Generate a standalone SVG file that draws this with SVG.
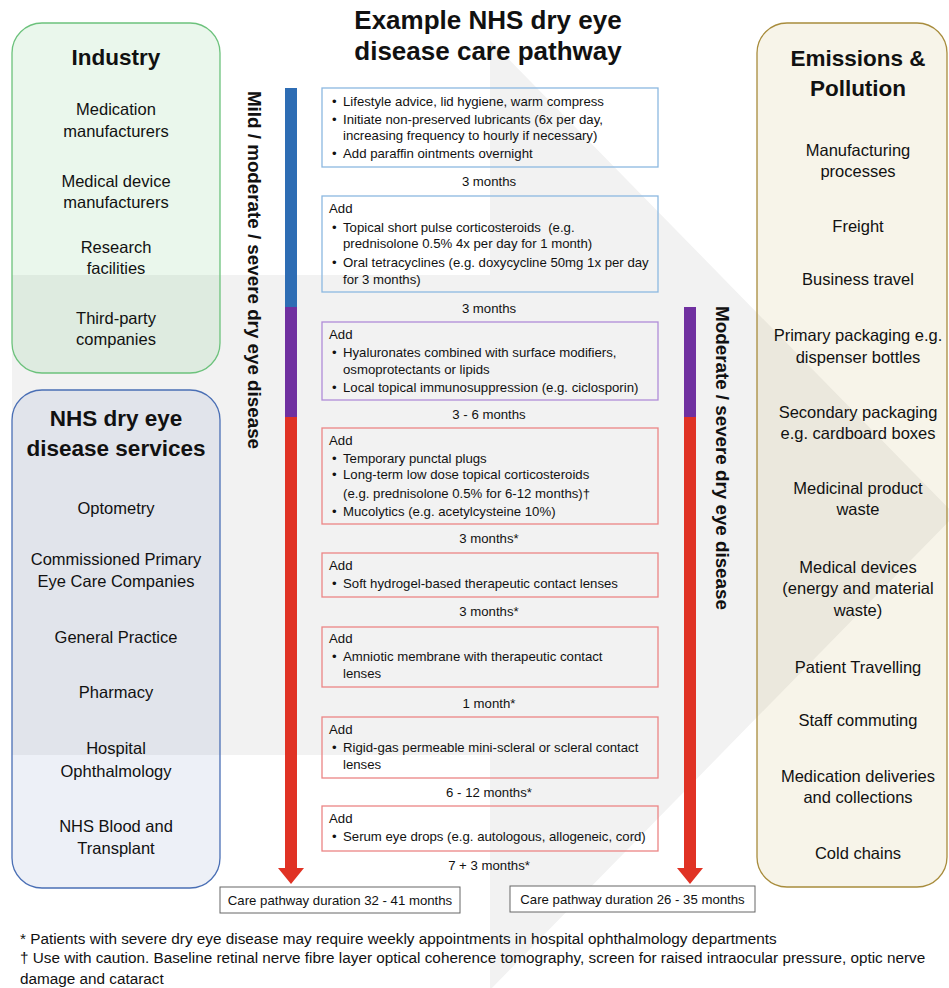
<svg xmlns="http://www.w3.org/2000/svg" width="949" height="988" viewBox="0 0 949 988">
<style>
text{font-family:"Liberation Sans",Arial,sans-serif;fill:#111;}
.title{font-size:26px;font-weight:bold;text-anchor:middle;}
.h{font-size:22.5px;font-weight:bold;text-anchor:middle;}
.it{font-size:16.5px;text-anchor:middle;}
.bx{font-size:13.2px;white-space:pre;}
.lbl{font-size:13.2px;text-anchor:middle;}
.vt{font-size:18.8px;font-weight:bold;text-anchor:middle;}
.fn{font-size:15.3px;}
.blue{fill:none;stroke:#8cb8e0;stroke-width:1.3;}
.purp{fill:none;stroke:#b08cd8;stroke-width:1.3;}
.red{fill:none;stroke:#ec8585;stroke-width:1.3;}
.dur{fill:#fff;stroke:#666;stroke-width:1;}
</style>
<rect width="949" height="988" fill="#fff"/>
<polygon points="12,275 490,275 490,40 955,515 490,990 490,755 12,755" fill="#f2f2f2"/>
<g id="title">
<text class="title" x="488" y="29">Example NHS dry eye</text>
<text class="title" x="488" y="60">disease care pathway</text>
</g>
<g id="industry">
<rect x="12" y="23" width="208" height="350" rx="30" fill="#60c070" fill-opacity="0.13" stroke="#6cc27c" stroke-width="1.3"/>
<text class="h" x="116" y="65">Industry</text>
<text class="it" x="116" y="115">Medication</text>
<text class="it" x="116" y="137">manufacturers</text>
<text class="it" x="116" y="187">Medical device</text>
<text class="it" x="116" y="208">manufacturers</text>
<text class="it" x="116" y="253">Research</text>
<text class="it" x="116" y="274">facilities</text>
<text class="it" x="116" y="324">Third-party</text>
<text class="it" x="116" y="345">companies</text>
</g>
<g id="nhs">
<rect x="12" y="390" width="208" height="498" rx="30" fill="#4a6fb5" fill-opacity="0.1" stroke="#4a6fb5" stroke-width="1.3"/>
<text class="h" x="116" y="426">NHS dry eye</text>
<text class="h" x="116" y="456">disease services</text>
<text class="it" x="116" y="514">Optometry</text>
<text class="it" x="116" y="565">Commissioned Primary</text>
<text class="it" x="116" y="587">Eye Care Companies</text>
<text class="it" x="116" y="643">General Practice</text>
<text class="it" x="116" y="698">Pharmacy</text>
<text class="it" x="116" y="754">Hospital</text>
<text class="it" x="116" y="777">Ophthalmology</text>
<text class="it" x="116" y="832">NHS Blood and</text>
<text class="it" x="116" y="854">Transplant</text>
</g>
<g id="emissions">
<rect x="757" y="23" width="190" height="864" rx="30" fill="#c8b060" fill-opacity="0.14" stroke="#a88c3c" stroke-width="1.3"/>
<text class="h" x="858" y="66">Emissions &amp;</text>
<text class="h" x="858" y="96">Pollution</text>
<text class="it" x="858" y="156">Manufacturing</text>
<text class="it" x="858" y="177">processes</text>
<text class="it" x="858" y="232">Freight</text>
<text class="it" x="858" y="285">Business travel</text>
<text class="it" x="858" y="341">Primary packaging e.g.</text>
<text class="it" x="858" y="363">dispenser bottles</text>
<text class="it" x="858" y="418">Secondary packaging</text>
<text class="it" x="858" y="439">e.g. cardboard boxes</text>
<text class="it" x="858" y="494">Medicinal product</text>
<text class="it" x="858" y="515">waste</text>
<text class="it" x="858" y="573">Medical devices</text>
<text class="it" x="858" y="594">(energy and material</text>
<text class="it" x="858" y="616">waste)</text>
<text class="it" x="858" y="673">Patient Travelling</text>
<text class="it" x="858" y="726">Staff commuting</text>
<text class="it" x="858" y="782">Medication deliveries</text>
<text class="it" x="858" y="803">and collections</text>
<text class="it" x="858" y="859">Cold chains</text>
</g>
<g id="connectors">
<rect x="285" y="88" width="12" height="219" fill="#2e6db4"/>
<rect x="285" y="307" width="12" height="110" fill="#7030a0"/>
<rect x="285" y="417" width="12" height="452" fill="#e03224"/>
<polygon points="278,868 304,868 291,884" fill="#e03224"/>
<rect x="684" y="307" width="12" height="110" fill="#7030a0"/>
<rect x="684" y="417" width="12" height="452" fill="#e03224"/>
<polygon points="677,868 703,868 690,884" fill="#e03224"/>
</g>
<g id="severity-left">
<text class="vt" transform="translate(248,270) rotate(90)">Mild / moderate / severe dry eye disease</text>
</g>
<g id="severity-right">
<text class="vt" transform="translate(716,458) rotate(90)">Moderate / severe dry eye disease</text>
</g>
<g id="step1">
<rect class="blue" x="322" y="88" width="336" height="79"/>
<text class="bx" x="332" y="105.5">•</text><text class="bx" x="343" y="105.5">Lifestyle advice, lid hygiene, warm compress</text>
<text class="bx" x="332" y="123.5">•</text><text class="bx" x="343" y="123.5">Initiate non-preserved lubricants (6x per day,</text>
<text class="bx" x="343" y="139.5">increasing frequency to hourly if necessary)</text>
<text class="bx" x="332" y="157.5">•</text><text class="bx" x="343" y="157.5">Add paraffin ointments overnight</text>
</g>
<text class="lbl" x="489" y="185.5">3 months</text>
<g id="step2">
<rect class="blue" x="322" y="196" width="336" height="96"/>
<text class="bx" x="329" y="212.5">Add</text>
<text class="bx" x="332" y="231.5">•</text><text class="bx" x="343" y="231.5">Topical short pulse corticosteroids  (e.g.</text>
<text class="bx" x="343" y="247.5">prednisolone 0.5% 4x per day for 1 month)</text>
<text class="bx" x="332" y="266.5">•</text><text class="bx" x="343" y="266.5">Oral tetracyclines (e.g. doxycycline 50mg 1x per day</text>
<text class="bx" x="343" y="283.5">for 3 months)</text>
</g>
<text class="lbl" x="489" y="312.5">3 months</text>
<g id="step3">
<rect class="purp" x="322" y="322" width="336" height="78"/>
<text class="bx" x="329" y="338.5">Add</text>
<text class="bx" x="332" y="356.5">•</text><text class="bx" x="343" y="356.5">Hyaluronates combined with surface modifiers,</text>
<text class="bx" x="343" y="373.5">osmoprotectants or lipids</text>
<text class="bx" x="332" y="391.5">•</text><text class="bx" x="343" y="391.5">Local topical immunosuppression (e.g. ciclosporin)</text>
</g>
<text class="lbl" x="489" y="418.5">3 - 6 months</text>
<g id="step4">
<rect class="red" x="322" y="428" width="336" height="96"/>
<text class="bx" x="329" y="444.5">Add</text>
<text class="bx" x="332" y="462.5">•</text><text class="bx" x="343" y="462.5">Temporary punctal plugs</text>
<text class="bx" x="332" y="479">•</text><text class="bx" x="343" y="479">Long-term low dose topical corticosteroids</text>
<text class="bx" x="343" y="497.5">(e.g. prednisolone 0.5% for 6-12 months)†</text>
<text class="bx" x="332" y="515.5">•</text><text class="bx" x="343" y="515.5">Mucolytics (e.g. acetylcysteine 10%)</text>
</g>
<text class="lbl" x="489" y="542.5">3 months*</text>
<g id="step5">
<rect class="red" x="322" y="553" width="336" height="44"/>
<text class="bx" x="329" y="569.5">Add</text>
<text class="bx" x="332" y="587.5">•</text><text class="bx" x="343" y="587.5">Soft hydrogel-based therapeutic contact lenses</text>
</g>
<text class="lbl" x="489" y="615.5">3 months*</text>
<g id="step6">
<rect class="red" x="322" y="627" width="336" height="60"/>
<text class="bx" x="329" y="642.5">Add</text>
<text class="bx" x="332" y="660.5">•</text><text class="bx" x="343" y="660.5">Amniotic membrane with therapeutic contact</text>
<text class="bx" x="343" y="677.5">lenses</text>
</g>
<text class="lbl" x="489" y="707.5">1 month*</text>
<g id="step7">
<rect class="red" x="322" y="717" width="336" height="61"/>
<text class="bx" x="329" y="733.5">Add</text>
<text class="bx" x="332" y="751.5">•</text><text class="bx" x="343" y="751.5">Rigid-gas permeable mini-scleral or scleral contact</text>
<text class="bx" x="343" y="768.5">lenses</text>
</g>
<text class="lbl" x="489" y="797">6 - 12 months*</text>
<g id="step8">
<rect class="red" x="322" y="806" width="336" height="45"/>
<text class="bx" x="329" y="823">Add</text>
<text class="bx" x="332" y="841">•</text><text class="bx" x="343" y="841">Serum eye drops (e.g. autologous, allogeneic, cord)</text>
</g>
<text class="lbl" x="489" y="870">7 + 3 months*</text>
<g id="duration-left">
<rect class="dur" x="220" y="887" width="240" height="26"/>
<text class="lbl" x="340" y="904.5">Care pathway duration 32 - 41 months</text>
</g>
<g id="duration-right">
<rect class="dur" x="510" y="886" width="245" height="26"/>
<text class="lbl" x="632.5" y="903.5">Care pathway duration 26 - 35 months</text>
</g>
<g id="footnotes">
<text class="fn" x="20" y="944">* Patients with severe dry eye disease may require weekly appointments in hospital ophthalmology departments</text>
<text class="fn" x="20" y="963">† Use with caution. Baseline retinal nerve fibre layer optical coherence tomography, screen for raised intraocular pressure, optic nerve</text>
<text class="fn" x="20" y="984">damage and cataract</text>
</g>
</svg>
